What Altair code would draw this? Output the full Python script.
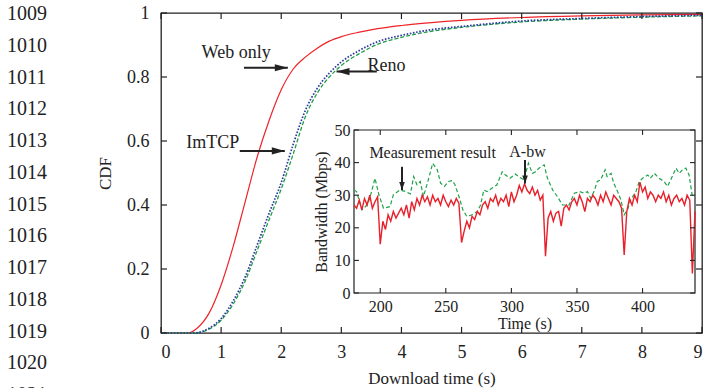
import altair as alt
import pandas as pd

FONT = "Liberation Serif"
INK = "#222222"

# ---------------- data ----------------
LINE_NUMBERS = list(range(1009, 1022))

# main CDF curves (Download time in s, CDF)
WEB_X = [0, 0.45, 0.6, 0.8, 1.0, 1.2, 1.4, 1.6, 1.8, 2.0, 2.2, 2.4, 2.6, 2.8, 3.0, 3.3, 3.6, 4.0, 4.5, 5.0, 6.0, 7.0, 8.0, 9.0]
WEB_Y = [0, 0, 0.015, 0.062, 0.15, 0.27, 0.41, 0.55, 0.665, 0.76, 0.825, 0.862, 0.89, 0.912, 0.926, 0.94, 0.951, 0.961, 0.97, 0.977, 0.986, 0.991, 0.994, 0.996]

TCP_X = [0, 0.55, 0.8, 1.0, 1.2, 1.4, 1.6, 1.8, 2.0, 2.2, 2.4, 2.6, 2.8, 3.0, 3.3, 3.6, 4.0, 4.5, 5.0, 6.0, 7.0, 8.0, 9.0]
IMTCP_Y = [0, 0, 0.015, 0.045, 0.1, 0.175, 0.275, 0.375, 0.47, 0.59, 0.695, 0.765, 0.812, 0.847, 0.883, 0.91, 0.93, 0.948, 0.958, 0.975, 0.983, 0.989, 0.993]
RENO_Y = [0, 0, 0.012, 0.04, 0.09, 0.162, 0.258, 0.355, 0.45, 0.56, 0.675, 0.75, 0.8, 0.836, 0.873, 0.902, 0.924, 0.943, 0.955, 0.972, 0.981, 0.987, 0.991]

MAIN_XTICKS = [0, 1, 2, 3, 4, 5, 6, 7, 8, 9]
MAIN_YTICKS = [0, 0.2, 0.4, 0.6, 0.8, 1]

MAIN_LABELS = ["Web only", "ImTCP", "Reno"]
MAIN_LABEL_X = [1.25, 0.86, 3.75]
MAIN_LABEL_Y = [0.875, 0.595, 0.835]
MAIN_ARROW_X1 = [1.38, 1.31, 3.59]
MAIN_ARROW_X2 = [2.11, 2.06, 2.92]
MAIN_ARROW_Y = [0.829, 0.569, 0.817]
MAIN_ARROW_DIR = ["right", "right", "left"]

# inset: bandwidth time series
RED_T = list(range(180, 441, 2))
RED_V = [27, 26, 28.5, 25.5, 29, 27, 30, 26, 28, 29.5,
         15, 22, 19.5, 24, 22, 25, 23, 24.5, 26, 24,
         27, 23, 28, 25.5, 29, 27, 30, 28, 29.5, 27,
         30, 28, 29, 27, 30, 28, 26.5, 28.5, 27, 29,
         27.5, 15.5, 19, 22, 20, 23.5, 22.5, 25, 24, 27,
         28, 26, 29, 28, 30, 27, 29, 28, 30, 26.5,
         31, 28, 30, 33, 31, 33.5, 31.5, 30.5, 32.5, 30,
         31.5, 28.5, 30, 11.3, 23, 25, 22, 24.5, 25, 20.5,
         26, 27, 25.5, 28, 29, 27, 30, 28, 25, 29,
         28, 30, 29, 27, 30, 28, 31, 29, 27, 30,
         29, 28, 26, 11.7, 25, 29, 27, 30, 28, 34,
         31, 32.5, 29, 31, 30, 28, 30, 29, 31, 28,
         30, 27, 29, 30, 28, 29, 27, 30, 28.5, 6, 25]

GREEN_T = [180, 182, 186, 190, 192, 196, 199, 202.5, 207.5, 210,
           215, 219.5, 223, 225.5, 228, 230.5, 233, 237, 240, 243.5,
           246, 249, 252, 255, 257, 260, 263, 266, 270, 274,
           276.5, 279, 281.5, 285, 289, 293, 295.5, 299, 303, 305.5,
           309.5, 313, 316, 318.5, 321, 325, 327.5, 331.5, 335, 339,
           344, 348, 352, 355.5, 358, 360.5, 363, 365.5, 368, 371.5,
           373, 376, 378, 381, 383.5, 386, 388.5, 391, 395, 397.5,
           400, 404, 406, 409, 412.5, 416.5, 419, 421.5, 425.5, 428,
           430.5, 433, 435.5, 438, 440]
GREEN_V = [31.6, 31.1, 25.5, 27, 29, 35.2, 30.1, 26, 26.5, 30.1,
           31.6, 31.1, 30.4, 35.7, 33.2, 34.2, 29.6, 35.2, 39.8, 37.8,
           33.7, 32.7, 34.2, 34.5, 33.2, 29.6, 25.5, 23.5, 24, 25,
           27, 31.6, 31.1, 32.1, 33.2, 37.2, 36.2, 35.2, 36.5, 35.7,
           34.7, 39.8, 36.7, 37.2, 38.3, 39.3, 35.2, 31.6, 29.6, 27,
           27, 30.6, 31.1, 30.6, 31.1, 29.1, 31.1, 34.2, 34.7, 37.8,
           35.7, 36.7, 33.7, 31.1, 28.6, 24, 25.5, 28.6, 31.1, 34.2,
           35.2, 36.2, 35.2, 36.7, 35.2, 34.2, 32.7, 34.7, 38.3, 36.7,
           37.8, 38.3, 36.2, 29.6, 30]

INSET_XDOMAIN = [180, 440]
INSET_YDOMAIN = [0, 50]
INSET_XTICKS = [200, 250, 300, 350, 400]
INSET_YTICKS = [0, 10, 20, 30, 40, 50]

INSET_LABELS = ["Measurement result", "A-bw"]
INSET_LABEL_X = [240, 312.3]
INSET_LABEL_Y = [42.9, 43.3]
INSET_ARROW_X = [216.6, 310.4]
INSET_ARROW_Y1 = [38.7, 40.8]
INSET_ARROW_Y2 = [31.6, 33.6]

# ---------------- layout constants (pixels) ----------------
W, H = 541, 320
INSET_RANGE_X = [193, 534]
INSET_RANGE_Y = [280, 117]

# ---------------- main chart ----------------
xs = alt.Scale(domain=[0, 9], nice=False, zero=False)
ys = alt.Scale(domain=[0, 1], nice=False, zero=False)

x_axis = alt.Axis(values=MAIN_XTICKS, ticks=False, domain=False, grid=False, format="d",
                  labelFontSize=18, titleFontSize=17, labelPadding=10, titlePadding=9,
                  title="Download time (s)", orient="bottom")
y_axis = alt.Axis(values=MAIN_YTICKS, ticks=False, domain=False, grid=False, format="~g",
                  labelFontSize=18, titleFontSize=17, labelPadding=12, titlePadding=12,
                  title="CDF", orient="left")

web_df = pd.DataFrame({"x": WEB_X, "y": WEB_Y})
tcp_df = pd.DataFrame({"x": TCP_X, "y": IMTCP_Y})
reno_df = pd.DataFrame({"x": TCP_X, "y": RENO_Y})

web = alt.Chart(web_df).mark_line(color="#ee2328", strokeWidth=1.2, interpolate="monotone").encode(
    x=alt.X("x:Q", scale=xs, axis=x_axis), y=alt.Y("y:Q", scale=ys, axis=y_axis))
reno = alt.Chart(reno_df).mark_line(color="#1f9e48", strokeWidth=1.3, strokeDash=[4, 2],
                                    interpolate="monotone").encode(x="x:Q", y="y:Q")
tcp = alt.Chart(tcp_df).mark_line(color="#2b3a9c", strokeWidth=1.7, strokeDash=[1.6, 1.6],
                                  interpolate="monotone").encode(x="x:Q", y="y:Q")

TL_X = 0.1    # tick length in x units (~6px)
TL_Y = 0.019  # tick length in y units (~6px)
tick_rows = []
for t in MAIN_XTICKS:
    tick_rows.append({"x": t, "x2": t, "y": 0, "y2": TL_Y})
    tick_rows.append({"x": t, "x2": t, "y": 1, "y2": 1 - TL_Y})
for t in MAIN_YTICKS:
    tick_rows.append({"x": 0, "x2": TL_X, "y": t, "y2": t})
    tick_rows.append({"x": 9, "x2": 9 - TL_X, "y": t, "y2": t})
main_ticks = alt.Chart(pd.DataFrame(tick_rows)).mark_rule(color=INK, strokeWidth=1.2).encode(
    x="x:Q", x2="x2:Q", y="y:Q", y2="y2:Q")

mlab_df = pd.DataFrame({"label": MAIN_LABELS, "x": MAIN_LABEL_X, "y": MAIN_LABEL_Y})
main_text = alt.Chart(mlab_df).mark_text(font=FONT, fontSize=18, color=INK, align="center",
                                         baseline="middle").encode(x="x:Q", y="y:Q", text="label:N")

marr_df = pd.DataFrame({"x1": MAIN_ARROW_X1, "x2": MAIN_ARROW_X2, "y": MAIN_ARROW_Y, "dir": MAIN_ARROW_DIR})
main_shaft = alt.Chart(marr_df).mark_rule(color=INK, strokeWidth=2).encode(x="x1:Q", x2="x2:Q", y="y:Q")
head_r = alt.Chart(marr_df).transform_filter(alt.datum.dir == "right").mark_point(
    shape="M-1,-0.55L1,0L-1,0.55Z", size=169, filled=True, color=INK, opacity=1, xOffset=-6.5
).encode(x="x2:Q", y="y:Q")
head_l = alt.Chart(marr_df).transform_filter(alt.datum.dir == "left").mark_point(
    shape="M1,-0.55L-1,0L1,0.55Z", size=169, filled=True, color=INK, opacity=1, xOffset=6.5
).encode(x="x2:Q", y="y:Q")

main = alt.layer(web, reno, tcp, main_ticks, main_text, main_shaft, head_r, head_l)

# ---------------- inset ----------------
ixs = alt.Scale(domain=INSET_XDOMAIN, range=INSET_RANGE_X, nice=False, zero=False)
iys = alt.Scale(domain=INSET_YDOMAIN, range=INSET_RANGE_Y, nice=False, zero=False)
ix_axis = alt.Axis(orient="bottom", offset=-40, values=INSET_XTICKS, ticks=False, domain=False,
                   grid=False, labelFontSize=16, titleFontSize=16, labelPadding=5, titlePadding=1,
                   title="Time (s)")
iy_axis = alt.Axis(orient="left", offset=-193, values=INSET_YTICKS, ticks=False, domain=False,
                   grid=False, labelFontSize=16, titleFontSize=16, labelPadding=4, titlePadding=5,
                   title="Bandwidth (Mbps)")

frame_df = pd.DataFrame({"x": [INSET_XDOMAIN[0]], "x2": [INSET_XDOMAIN[1]],
                         "y": [INSET_YDOMAIN[0]], "y2": [INSET_YDOMAIN[1]]})
frame = alt.Chart(frame_df).mark_rect(fill="white", stroke=INK, strokeWidth=1.2).encode(
    x=alt.X("x:Q", scale=ixs, axis=ix_axis), x2="x2:Q",
    y=alt.Y("y:Q", scale=iys, axis=iy_axis), y2="y2:Q")

red_df = pd.DataFrame({"t": RED_T, "v": RED_V})
green_df = pd.DataFrame({"t": GREEN_T, "v": GREEN_V})
red = alt.Chart(red_df).mark_line(color="#e8202a", strokeWidth=1.4, clip=False).encode(
    x=alt.X("t:Q"), y=alt.Y("v:Q"))
green = alt.Chart(green_df).mark_line(color="#1fa34a", strokeWidth=1.2, strokeDash=[4, 2.5]).encode(
    x="t:Q", y="v:Q")

ITL_X = 3.8   # ~5px
ITL_Y = 1.5   # ~5px
itick_rows = []
for t in INSET_XTICKS:
    itick_rows.append({"x": t, "x2": t, "y": INSET_YDOMAIN[0], "y2": INSET_YDOMAIN[0] + ITL_Y})
    itick_rows.append({"x": t, "x2": t, "y": INSET_YDOMAIN[1], "y2": INSET_YDOMAIN[1] - ITL_Y})
for t in INSET_YTICKS:
    itick_rows.append({"x": INSET_XDOMAIN[0], "x2": INSET_XDOMAIN[0] + ITL_X, "y": t, "y2": t})
    itick_rows.append({"x": INSET_XDOMAIN[1], "x2": INSET_XDOMAIN[1] - ITL_X, "y": t, "y2": t})
inset_ticks = alt.Chart(pd.DataFrame(itick_rows)).mark_rule(color=INK, strokeWidth=1.1).encode(
    x="x:Q", x2="x2:Q", y="y:Q", y2="y2:Q")

ilab_df = pd.DataFrame({"label": INSET_LABELS, "x": INSET_LABEL_X, "y": INSET_LABEL_Y})
inset_text = alt.Chart(ilab_df).mark_text(font=FONT, fontSize=16, color=INK, align="center",
                                          baseline="middle").encode(x="x:Q", y="y:Q", text="label:N")
iarr_df = pd.DataFrame({"x": INSET_ARROW_X, "y1": INSET_ARROW_Y1, "y2": INSET_ARROW_Y2})
inset_shaft = alt.Chart(iarr_df).mark_rule(color=INK, strokeWidth=2).encode(x="x:Q", y="y1:Q", y2="y2:Q")
inset_head = alt.Chart(iarr_df).mark_point(
    shape="M-0.7,-1L0,1L0.7,-1Z", size=64, filled=True, color=INK, opacity=1, yOffset=-4
).encode(x="x:Q", y="y2:Q")

inset = alt.layer(frame, green, red, inset_ticks, inset_text, inset_shaft, inset_head)

# ---------------- margin line numbers ----------------
num_df = pd.DataFrame({"n": LINE_NUMBERS})
nums = alt.Chart(num_df).mark_text(font=FONT, fontSize=20, color=INK, align="left",
                                   baseline="middle").encode(
    x=alt.value(-154),
    y=alt.Y("n:Q", scale=alt.Scale(domain=[1009, 1021], range=[1, 382], nice=False, zero=False), axis=None),
    text=alt.Text("n:Q", format="d"))

chart = alt.layer(main, inset, nums).resolve_scale(x="independent", y="independent").properties(
    width=W, height=H,
    padding={"left": 161, "top": 13, "right": 4, "bottom": 55},
    autosize=alt.AutoSizeParams(type="none"),
).configure(font=FONT).configure_view(stroke=INK, strokeWidth=1.3).configure_axis(
    labelFont=FONT, titleFont=FONT, labelColor=INK, titleColor=INK, titleFontWeight="normal"
)

chart.save("out.html", embed_options={"renderer": "svg", "actions": False})
